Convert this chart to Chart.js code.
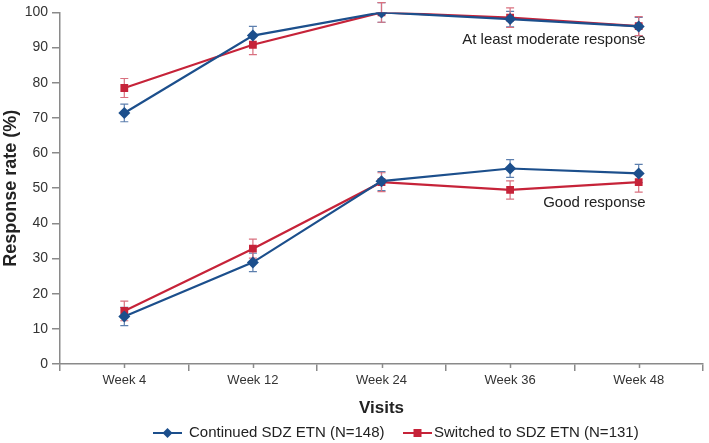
<!DOCTYPE html>
<html>
<head>
<meta charset="utf-8">
<script src="https://cdn.jsdelivr.net/npm/chart.js@4"></script>
<style>
  html, body { margin: 0; padding: 0; background: #fff; }
  #wrap { width: 709px; height: 443px; }
</style>
</head>
<body>
<div id="wrap"><canvas id="lineChart"></canvas></div>
<script>
// Data
const visits = ['Week 4', 'Week 12', 'Week 24', 'Week 36', 'Week 48'];
const continuedModerate = [71.4, 93.4, 100, 98.1, 96.0];
const switchedModerate = [78.5, 90.8, 100, 98.5, 96.1];
const continuedGood = [13.5, 28.9, 52.0, 55.6, 54.2];
const switchedGood = [15.1, 32.8, 51.7, 49.5, 51.7];
// half-width of the error bars
const continuedModerateErr = [2.5, 2.6, 2.8, 2.2, 2.6];
const switchedModerateErr = [2.7, 2.8, 2.8, 2.8, 2.7];
const continuedGoodErr = [2.6, 2.6, 2.7, 2.5, 2.6];
const switchedGoodErr = [2.8, 2.7, 2.7, 2.6, 2.8];
const yTicks = [0, 10, 20, 30, 40, 50, 60, 70, 80, 90, 100];
const legendNames = ['Continued SDZ ETN (N=148)', 'Switched to SDZ ETN (N=131)'];

const blue = '#1c4f8c';
const red = '#c62339';
const blueErr = '#5d7fae';
const redErr = '#d9707f';
const font = "'Liberation Sans', Arial, sans-serif";

function drawMarker(g, style, cx, cy, r) {
    g.beginPath();
    if (style === 'diamond') {
        g.moveTo(cx, cy - r); g.lineTo(cx + r, cy); g.lineTo(cx, cy + r); g.lineTo(cx - r, cy);
    } else {
        g.rect(cx - r * 0.8, cy - r * 0.8, r * 1.6, r * 1.6);
    }
    g.closePath(); g.fill();
}

const errorBars = {
    id: 'errorBars',
    beforeDatasetsDraw(chart) {
        const ctx = chart.ctx;
        const x = chart.scales.x, y = chart.scales.y;
        chart.data.datasets.forEach(ds => {
            ctx.save();
            ctx.strokeStyle = ds.errColor;
            ctx.lineWidth = 1.2;
            ds.data.forEach((v, i) => {
                const px = x.getPixelForValue(i);
                const top = y.getPixelForValue(v + ds.err[i]);
                const bot = y.getPixelForValue(v - ds.err[i]);
                ctx.beginPath();
                ctx.moveTo(px, top); ctx.lineTo(px, bot);
                ctx.moveTo(px - 4, top); ctx.lineTo(px + 4, top);
                ctx.moveTo(px - 4, bot); ctx.lineTo(px + 4, bot);
                ctx.stroke();
            });
            ctx.restore();
        });
    }
};

const extras = {
    id: 'extras',
    afterDraw(chart) {
        const ctx = chart.ctx;
        const x = chart.scales.x, y = chart.scales.y;
        ctx.save();
        // short ticks under each category
        ctx.strokeStyle = '#8a8a8a';
        ctx.lineWidth = 1.5;
        visits.forEach((v, i) => {
            const px = Math.round(x.getPixelForValue(i)) + 0.5;
            ctx.beginPath();
            ctx.moveTo(px, y.bottom); ctx.lineTo(px, y.bottom + 4);
            ctx.stroke();
        });
        // group labels
        ctx.fillStyle = '#222';
        ctx.font = '15px ' + font;
        ctx.textAlign = 'right';
        ctx.textBaseline = 'middle';
        const rx = x.getPixelForValue(4) + 7;
        ctx.fillText('At least moderate response', rx, y.getPixelForValue(92.1));
        ctx.fillText('Good response', rx, y.getPixelForValue(45.9));

        // legend: line with marker, then name
        const items = [
            { color: blue, style: 'diamond', x0: 153, tx: 189 },
            { color: red, style: 'square', x0: 403, tx: 434 }
        ];
        const ly = 433;
        ctx.textAlign = 'left';
        items.forEach((it, i) => {
            ctx.strokeStyle = it.color;
            ctx.fillStyle = it.color;
            ctx.lineWidth = 2;
            ctx.beginPath(); ctx.moveTo(it.x0, ly); ctx.lineTo(it.x0 + 29, ly); ctx.stroke();
            drawMarker(ctx, it.style, it.x0 + 14.5, ly, 5);
            ctx.fillStyle = '#222';
            ctx.fillText(legendNames[i], it.tx, ly);
        });
        ctx.restore();
    }
};

function series(label, data, err, color, errColor, style) {
    return {
        label: label,
        data: data,
        err: err,
        errColor: errColor,
        borderColor: color,
        backgroundColor: color,
        borderWidth: 2.2,
        pointStyle: style === 'diamond' ? 'rectRot' : 'rect',
        pointRadius: style === 'diamond' ? 6 : 5.5,
        pointBorderWidth: 0,
        tension: 0
    };
}

const lineChartCtx = document.getElementById('lineChart').getContext('2d');
const lineChart = new Chart(lineChartCtx, {
    type: 'line',
    data: {
        labels: visits,
        datasets: [
            series(legendNames[0], continuedModerate, continuedModerateErr, blue, blueErr, 'diamond'),
            series(legendNames[1], switchedModerate, switchedModerateErr, red, redErr, 'square'),
            series('Continued good', continuedGood, continuedGoodErr, blue, blueErr, 'diamond'),
            series('Switched good', switchedGood, switchedGoodErr, red, redErr, 'square')
        ]
    },
    options: {
        responsive: true,
        maintainAspectRatio: false,
        animation: false,
        layout: { padding: { top: 9, right: 0, left: 0, bottom: 19 } },
        plugins: {
            tooltip: { enabled: false },
            legend: { display: false }
        },
        scales: {
            x: {
                offset: true,
                grid: {
                    offset: true,
                    drawOnChartArea: false,
                    color: '#8a8a8a',
                    lineWidth: 1.5,
                    tickLength: 7
                },
                border: { color: '#8a8a8a', width: 1.5 },
                ticks: { color: '#333', font: { family: font, size: 13 }, padding: 2 },
                title: {
                    display: true,
                    text: 'Visits',
                    color: '#222',
                    font: { family: font, size: 17, weight: 'bold' },
                    padding: { top: 4, bottom: 5 }
                },
                afterFit(scale) { scale.height = 60; }
            },
            y: {
                min: 0,
                max: 100,
                afterBuildTicks(scale) { scale.ticks = yTicks.map(v => ({ value: v })); },
                grid: {
                    drawOnChartArea: false,
                    color: '#8a8a8a',
                    lineWidth: 1.5,
                    tickLength: 8
                },
                border: { color: '#8a8a8a', width: 1.5 },
                ticks: { color: '#333', font: { family: font, size: 14 }, padding: 4 },
                title: {
                    display: true,
                    text: 'Response rate (%)',
                    color: '#222',
                    font: { family: font, size: 18, weight: 'bold' },
                    padding: { top: 0, bottom: 2 }
                },
                afterFit(scale) { scale.width = 60; }
            }
        }
    },
    plugins: [errorBars, extras]
});
</script>
</body>
</html>
